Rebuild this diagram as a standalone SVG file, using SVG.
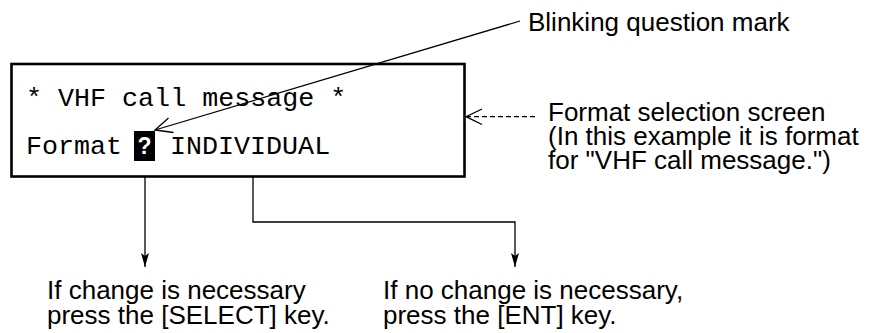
<svg xmlns="http://www.w3.org/2000/svg" width="869" height="333" viewBox="0 0 869 333">
<style>
.mono{font-family:"Liberation Mono","Courier New",monospace;font-size:26.7px;fill:#000}
.sans{font-family:"Liberation Sans",Arial,sans-serif;font-size:26px;fill:#000}
.ln{fill:none;stroke:#000;stroke-width:1.3}
</style>
<defs>
<marker id="tri" viewBox="0 0 14 8" refX="14" refY="4" markerWidth="14" markerHeight="8" markerUnits="userSpaceOnUse" orient="auto">
<path d="M0,0 L14,4 L0,8 L3,4 Z" fill="#000"/>
</marker>
</defs>
<g id="screen">
<rect x="11.5" y="64" width="453" height="112.5" fill="#fff" stroke="#000" stroke-width="2.6"/>
<text class="mono" x="26" y="106">* VHF call message *</text>
<text class="mono" x="26" y="154">Format</text>
<rect x="134" y="131" width="21" height="30" fill="#000"/>
<text x="144.5" y="154" text-anchor="middle" style="font-family:'Liberation Sans',Arial,sans-serif;font-weight:bold;font-size:23px;fill:#fff">?</text>
<text class="mono" x="170" y="154">INDIVIDUAL</text>
</g>
<g id="label-blinking">
<text class="sans" x="528" y="31">Blinking question mark</text>
</g>
<g id="label-format">
<text class="sans" x="548" y="121">Format selection screen</text>
<text class="sans" x="548" y="145">(In this example it is format</text>
<text class="sans" x="548" y="169">for "VHF call message.")</text>
</g>
<g id="label-select">
<text class="sans" x="47" y="299">If change is necessary</text>
<text class="sans" x="47" y="324">press the [SELECT] key.</text>
</g>
<g id="label-ent">
<text class="sans" x="383" y="299">If no change is necessary,</text>
<text class="sans" x="383" y="324">press the [ENT] key.</text>
</g>
<g id="connectors">
<line class="ln" x1="520" y1="21" x2="155" y2="130"/>
<polyline class="ln" points="168.5,118 155,130 173.5,132.5"/>
<line class="ln" x1="535" y1="116.7" x2="467" y2="116.7" stroke-dasharray="5 3"/>
<polyline class="ln" points="482,109 466,116.7 482,124.5"/>
<line class="ln" x1="145" y1="177" x2="145" y2="267" marker-end="url(#tri)"/>
<polyline class="ln" points="253,177 253,222 515,222 515,267" marker-end="url(#tri)"/>
</g>
</svg>
